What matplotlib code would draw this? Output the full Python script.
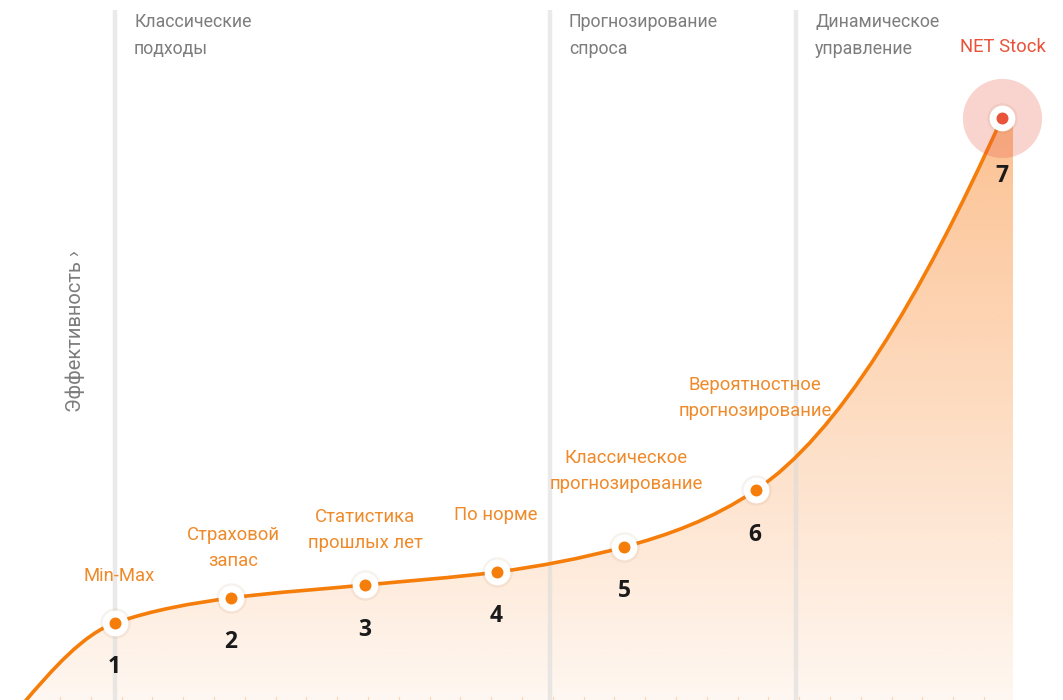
import numpy as np
import matplotlib
matplotlib.use("Agg")
import matplotlib.pyplot as plt
from matplotlib.path import Path
from matplotlib.patches import PathPatch

# ---------------- data ----------------
stage_numbers = ["1", "2", "3", "4", "5", "6", "7"]
stage_labels = ["Min-Max", "Страховой\nзапас", "Статистика\nпрошлых лет", "По норме",
                "Классическое\nпрогнозирование", "Вероятностное\nпрогнозирование", "NET Stock"]
stage_x = [115, 231, 365, 497, 624, 756, 1002]
efficiency = [77, 102, 115, 128, 153, 210, 582]
curve_start = (22, -5)
phase_x = [115, 550, 796]
phase_labels = ["Классические\nподходы", "Прогнозирование\nспроса", "Динамическое\nуправление"]
y_label = "Эффективность ›"

# ---------------- style ----------------
ORANGE = "#f57d0a"
LABEL_ORANGE = "#ef8a2a"
RED = "#e8533a"
GREY_TXT = "#7d7d7d"
NARROW = ["Liberation Sans Narrow", "Roboto", "DejaVu Sans"]
NUMFONT = ["Open Sans", "Noto Sans", "DejaVu Sans"]

fig = plt.figure(figsize=(10.63, 7.0), dpi=100)
ax = fig.add_axes([0, 0, 1, 1])
ax.set_xlim(0, 1063)
ax.set_ylim(0, 700)
ax.axis("off")

# ---------------- smooth curve as bezier path (monotone cubic tangents) ----------------
xs = np.array([curve_start[0]] + stage_x, dtype=float)
ys = np.array([curve_start[1]] + efficiency, dtype=float)
h = np.diff(xs)
d = np.diff(ys) / h
m = np.zeros_like(xs)
for i in range(1, len(xs) - 1):
    if d[i - 1] * d[i] > 0:
        m[i] = 2 * d[i - 1] * d[i] / (d[i - 1] + d[i])
m[0] = ((2 * h[0] + h[1]) * d[0] - h[0] * d[1]) / (h[0] + h[1])
m[-1] = ((2 * h[-1] + h[-2]) * d[-1] - h[-1] * d[-2]) / (h[-1] + h[-2])

verts = [(xs[0], ys[0])]
codes = [Path.MOVETO]
for i in range(len(xs) - 1):
    c1 = (xs[i] + h[i] / 3, ys[i] + m[i] * h[i] / 3)
    c2 = (xs[i + 1] - h[i] / 3, ys[i + 1] - m[i + 1] * h[i] / 3)
    verts += [c1, c2, (xs[i + 1], ys[i + 1])]
    codes += [Path.CURVE4] * 3
curve_path = Path(verts, codes)

# fill region
fill_right = 1013
fverts = verts + [(fill_right, ys[-1]), (fill_right, 0), (xs[0], 0), (xs[0], ys[0])]
fcodes = codes + [Path.LINETO, Path.LINETO, Path.LINETO, Path.CLOSEPOLY]
fill_path = Path(fverts, fcodes)
fill_patch = PathPatch(fill_path, facecolor="none", edgecolor="none")
ax.add_patch(fill_patch)

yy = np.linspace(0, 700, 400)
alpha = np.clip(0.07 + (yy / 700) * 0.55, 0, 1)
grad = np.zeros((400, 2, 4))
grad[..., 0] = 250 / 255
grad[..., 1] = 138 / 255
grad[..., 2] = 48 / 255
grad[..., 3] = alpha[:, None]
im = ax.imshow(grad, extent=[0, 1063, 0, 700], origin="lower", aspect="auto", zorder=1,
               interpolation="bilinear")
im.set_clip_path(fill_patch)

# phase vertical lines
for px in phase_x:
    ax.plot([px, px], [0, 690], color="#d9d9d9", lw=3.2, alpha=0.55, zorder=2, solid_capstyle="butt")
for px, lab in zip(phase_x, phase_labels):
    ax.text(px + 19, 700 - 35.5, lab, color=GREY_TXT, fontsize=12.8, family=NARROW,
            ha="left", va="center", linespacing=1.6, zorder=5)

# curve
ax.add_patch(PathPatch(curve_path, facecolor="none", edgecolor=ORANGE, lw=2.6, zorder=3))

# bottom faint ticks
for tx in np.arange(60, 1013, 30.8):
    ax.plot([tx, tx], [0, 3], color="#f9d6b6", lw=0.8, zorder=2)

# halo for last point
ax.plot(stage_x[-1], efficiency[-1], "o", ms=57, color=RED, alpha=0.25, mec="none", zorder=3)

# markers
for i, (x, y) in enumerate(zip(stage_x, efficiency)):
    ax.plot(x, y, "o", ms=22, color="#b0805a", alpha=0.10, mec="none", zorder=4)
    ax.plot(x, y, "o", ms=18.5, color="white", mec="none", zorder=4)
    ax.plot(x, y, "o", ms=8.6, color=RED if i == len(stage_x) - 1 else ORANGE, mec="none", zorder=5)

# labels
label_offsets = [(4, 47), (2, 50), (0, 55), (-1, 57), (2, 76), (-1, 92), (1, 71)]
number_offsets = [(-1, -44), (0, -44), (0, -45), (-1, -44), (0, -44), (-1, -45), (0, -58)]
for i, (x, y) in enumerate(zip(stage_x, efficiency)):
    lx, ly = label_offsets[i]
    col = RED if i == len(stage_x) - 1 else LABEL_ORANGE
    ax.text(x + lx, y + ly, stage_labels[i], color=col, fontsize=13.3, family=NARROW,
            ha="center", va="center", linespacing=1.6, zorder=6)
    nx, ny = number_offsets[i]
    ax.text(x + nx, y + ny, stage_numbers[i], color="#1a1a1a", fontsize=16.5, family=NUMFONT,
            fontweight="bold", ha="center", va="center", zorder=6)

# y label
ax.text(75, 700 - 331, y_label, rotation=90, color=GREY_TXT, fontsize=14.5, family=NARROW,
        ha="center", va="center")

fig.savefig("out.png", dpi=100)
